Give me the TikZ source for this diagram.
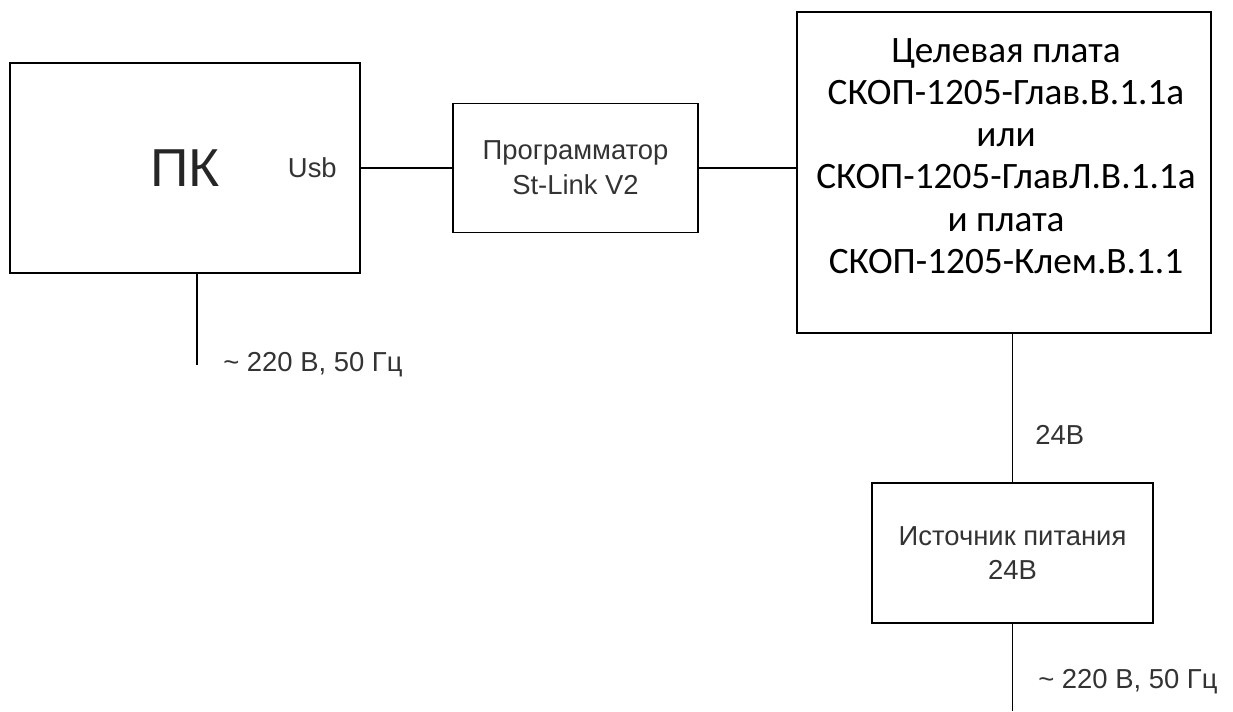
\documentclass[tikz,border=0pt]{standalone}
\usepackage{fontspec}
\setmainfont{Liberation Sans}
\newfontfamily\boardfont{Carlito}
\usetikzlibrary{positioning,calc}
\definecolor{txtGray}{HTML}{333333}

\begin{document}
\begin{tikzpicture}[x=0.025cm, y=-0.025cm,
  blok/.style={draw, line width=1.3pt, inner sep=0pt, align=center, text=txtGray, font=\fontsize{19.5}{24.8}\selectfont},
  lbl/.style={font=\fontsize{19.5}{23}\selectfont, text=txtGray, inner sep=0pt},
  wire/.style={line width=1.3pt}]
\useasboundingbox (0,0) rectangle (1233,711);

\node[blok, minimum width=8.75cm, minimum height=5.25cm] (pc) at (185,168) {};
\node[font=\fontsize{38}{40}\selectfont, text=black!85, inner sep=0pt] (pcname) at (185,168) {ПК};
\node[lbl, anchor=east] (usb) at (337,168) {Usb};

\node[blok, minimum width=6.125cm, minimum height=3.225cm] (prog) at (575.5,168) {Программатор\\St-Link V2};

\node[blok, minimum width=10.35cm, minimum height=8.025cm] (target) at (1004,172.5) {};
\node[font=\boardfont\fontsize{26.5}{30}\selectfont, align=center, inner sep=0pt] (targettxt) at (1006,156)
  {Целевая плата\\СКОП-1205-Глав.В.1.1а\\или\\СКОП-1205-ГлавЛ.В.1.1а\\и плата\\ СКОП-1205-Клем.В.1.1};

\node[blok, minimum width=7.025cm, minimum height=3.5cm] (psu) at (1012.5,553) {Источник питания\\24В};

\coordinate (pcpwr) at ($(pc.south)+(12,0)$);
\coordinate (pcend) at (197,365);
\coordinate (psuend) at (1012.5,711);

\draw[wire] (pc.east) -- (prog.west);
\draw[wire] (prog.east) -- (prog.east -| target.west);
\draw[wire] (pcpwr) -- (pcend);
\draw[wire] (psu.north |- target.south) -- (psu.north);
\draw[wire] (psu.south) -- (psuend);

\node[lbl, anchor=west] (pcmains) at ($(pcend)+(26,0)$) {\textasciitilde{} 220 В, 50 Гц};
\node[lbl, anchor=west] (volts) at (1035,435) {24В};
\node[lbl, anchor=west] (psumains) at (1038,682) {\textasciitilde{} 220 В, 50 Гц};
\end{tikzpicture}
\end{document}
